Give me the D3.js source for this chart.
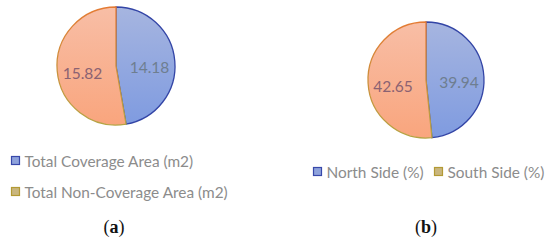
<!DOCTYPE html>
<html>
<head>
<meta charset="utf-8">
<script src="https://cdn.jsdelivr.net/npm/d3@7"></script>
<style>
  body { margin: 0; background: #fff; }
  svg { display: block; }
  .lbl { font-family: Lato, "Open Sans", sans-serif; font-size: 15.5px; }
  .leg { font-family: Lato, "Open Sans", sans-serif; font-size: 15.4px; fill: #8c8c8c; }
  .cap { font-family: "Liberation Serif", serif; font-size: 18px; fill: #111; }
</style>
</head>
<body>
<svg id="chart" width="550" height="243"></svg>
<script>
// data
var namesA = ['Total Coverage Area (m2)', 'Total Non-Coverage Area (m2)'];
var valuesA = [14.18, 15.82];
var namesB = ['North Side (%)', 'South Side (%)'];
var valuesB = [39.94, 42.65];
var captions = ['a', 'b'];

var svg = d3.select('#chart');
var defs = svg.append('defs');

function grad(id, c1, c2) {
	var g = defs.append('linearGradient')
		.attr('id', id)
		.attr('x1', 0).attr('y1', 0)
		.attr('x2', 0).attr('y2', 1);
	g.append('stop').attr('offset', '0%').attr('stop-color', c1);
	g.append('stop').attr('offset', '100%').attr('stop-color', c2);
}
grad('gBlue', '#a6b5e0', '#7f9be0');
grad('gSalmon', '#f8beA6', '#f9a57d');
grad('gSalmonStroke', '#e47b34', '#b5a444');

var sliceFill = ['url(#gBlue)', 'url(#gSalmon)'];
var sliceStroke = ['#3345a6', 'url(#gSalmonStroke)'];
var labelColor = ['#6e7e90', '#8b6272'];

var pie = d3.pie().sort(null);

function drawPie(vals, cx, cy, r) {
	var arc = d3.arc().innerRadius(0).outerRadius(r);
	var labelArc = d3.arc().innerRadius(r * 0.57).outerRadius(r * 0.57);
	var g = svg.append('g').attr('transform', 'translate(' + cx + ',' + cy + ')');
	var arcs = pie(vals);

	g.selectAll('path')
		.data(arcs)
		.enter()
		.append('path')
		.attr('d', arc)
		.attr('fill', function(d, i) { return sliceFill[i]; })
		.attr('stroke', function(d, i) { return sliceStroke[i]; })
		.attr('stroke-width', 1.3);

	g.selectAll('text')
		.data(arcs)
		.enter()
		.append('text')
		.attr('class', 'lbl')
		.attr('text-anchor', 'middle')
		.attr('x', function(d) { return labelArc.centroid(d)[0]; })
		.attr('y', function(d) { return labelArc.centroid(d)[1] + 10; })
		.attr('fill', function(d, i) { return labelColor[i]; })
		.text(function(d) { return d.data.toFixed(2); });
}

drawPie(valuesA, 116, 66, 59);
drawPie(valuesB, 426, 80, 58);

// legends
var legFill = ['#8ea2dc', '#c9b67e'];
var legStroke = ['#3848aa', '#b39a34'];

function legendItem(x, y, i, name) {
	svg.append('rect')
		.attr('x', x).attr('y', y - 4.5)
		.attr('width', 8).attr('height', 8)
		.attr('fill', legFill[i])
		.attr('stroke', legStroke[i])
		.attr('stroke-width', 1.2);
	svg.append('text')
		.attr('class', 'leg')
		.attr('x', x + 13)
		.attr('y', y + 5.5)
		.text(name);
}

legendItem(11.5, 161, 0, namesA[0]);
legendItem(11.5, 192, 1, namesA[1]);
legendItem(313.5, 172, 0, namesB[0]);
legendItem(434.5, 172, 1, namesB[1]);

// captions
function caption(x, y, letter) {
	var t = svg.append('text')
		.attr('class', 'cap')
		.attr('text-anchor', 'middle')
		.attr('x', x).attr('y', y);
	t.append('tspan').text('(');
	t.append('tspan').attr('font-weight', 'bold').text(letter);
	t.append('tspan').text(')');
}
caption(114, 233, captions[0]);
caption(426, 233, captions[1]);
</script>
</body>
</html>
